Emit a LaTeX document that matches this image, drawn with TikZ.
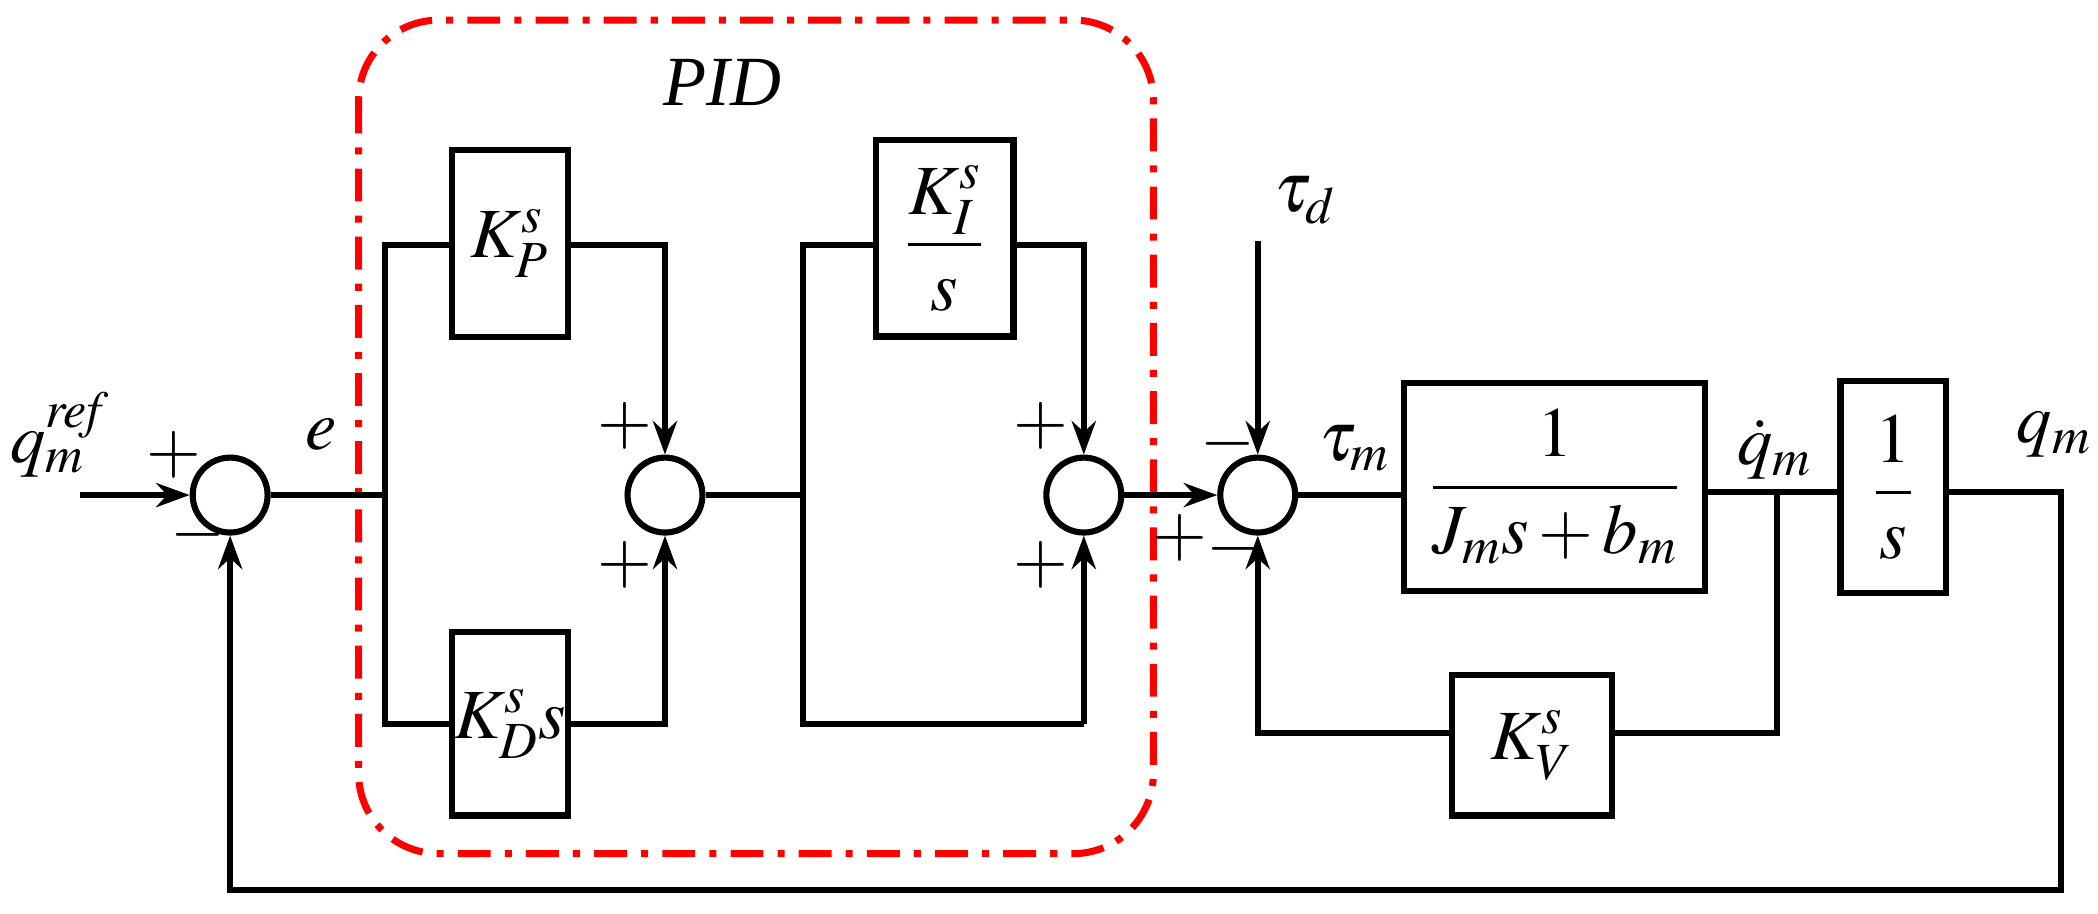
\documentclass[tikz,border=0pt]{standalone}
\usepackage{amsmath}
\usepackage{mathptmx}
\usepackage{fontspec}
\setmainfont{Liberation Serif}
\usetikzlibrary{arrows.meta}
\tikzset{
  blk/.style={draw, line width=2.6pt, inner sep=0pt},
  sumn/.style={draw, circle, line width=2.6pt, minimum size=1.12cm, inner sep=0pt},
  wire/.style={line width=2.6pt},
  arr/.style={wire, -{Stealth[length=0.5cm, width=0.36cm]}},
  lbl/.style={font=\fontsize{30}{34}\selectfont}
}
\begin{document}
\begin{tikzpicture}[x=0.02cm, y=-0.02cm, lbl]
\useasboundingbox (0,0) rectangle (1568,683);
% PID frame
\draw[red, line width=3pt, dash pattern=on 14pt off 6pt on 3pt off 6pt, rounded corners=1.2cm]
  (268,15) rectangle (862,638);
\node (pid) at (540,62) {\textit{PID}};
% summing points
\node[sumn] (s1) at (172,370) {};
\node[sumn] (s2) at (497,370) {};
\node[sumn] (s3) at (810,370) {};
\node[sumn] (s4) at (940,370) {};
% blocks
\node[blk, minimum width=1.74cm, minimum height=2.8cm] (kp) at (381,182) {$K_P^s$};
\node[blk, minimum width=1.74cm, minimum height=2.74cm] (kd) at (381,541) {$K_D^s s$};
\node[blk, minimum width=2.06cm, minimum height=2.94cm] (ki) at (706,178) {$\dfrac{K_I^s}{s}$};
\node[blk, minimum width=4.5cm, minimum height=3.1cm] (gm) at (1162,364) {$\dfrac{1}{J_m s+b_m}$};
\node[blk, minimum width=1.58cm, minimum height=3.16cm] (ig) at (1415,364) {$\dfrac{1}{s}$};
\node[blk, minimum width=2.4cm, minimum height=2.1cm] (kv) at (1145,557) {$K_V^s$};
% coordinates
\coordinate (in) at (60,370);
\coordinate (ja) at (288,370);
\coordinate (jb) at (600,370);
\coordinate (jc) at (1328,368);
\coordinate (td) at (940,180);
\coordinate (out) at (1540,368);
% connectors
\draw[arr] (in) -- (s1);
\draw[wire] (s1) -- (ja);
\draw[wire] (kp.west |- 0,183) -| (288,541) -- (kd.west |- 0,541);
\draw[arr] (kp.east |- 0,183) -| (s2.north);
\draw[arr] (kd.east |- 0,541) -| (s2.south);
\draw[wire] (s2) -- (jb);
\draw[wire] (ki.west |- 0,183) -| (600,541) -- (810,541);
\draw[arr] (810,541) -- (s3.south);
\draw[arr] (ki.east |- 0,183) -| (s3.north);
\draw[arr] (s3) -- (s4);
\draw[arr] (td) -- (s4.north);
\draw[wire] (s4) -- (gm.west |- s4);
\draw[wire] (gm.east |- jc) -- (ig.west |- jc);
\draw[wire] (jc) |- (kv.east |- 0,548);
\draw[arr] (kv.west |- 0,548) -| (s4.south);
\draw[arr] (ig.east |- out) -- (out) |- (172,665) -- (s1.south);
% labels
\node (lqr) at (45,325) {$q_m^{\mathit{ref}}$};
\node (le) at (240,325) {$e$};
\node (ltd) at (975,150) {$\tau_d$};
\node (ltm) at (1012,335) {$\tau_m$};
\node (lqd) at (1326,336) {$\dot q_m$};
\node (lq) at (1535,325) {$q_m$};
\node at (130,340) {$+$};
\node at (148,400) {$-$};
\node at (467,318) {$+$};
\node at (467,422) {$+$};
\node at (778,318) {$+$};
\node at (778,422) {$+$};
\node at (882,402) {$+$};
\node at (918,332) {$-$};
\node at (922,410) {$-$};
\end{tikzpicture}
\end{document}
